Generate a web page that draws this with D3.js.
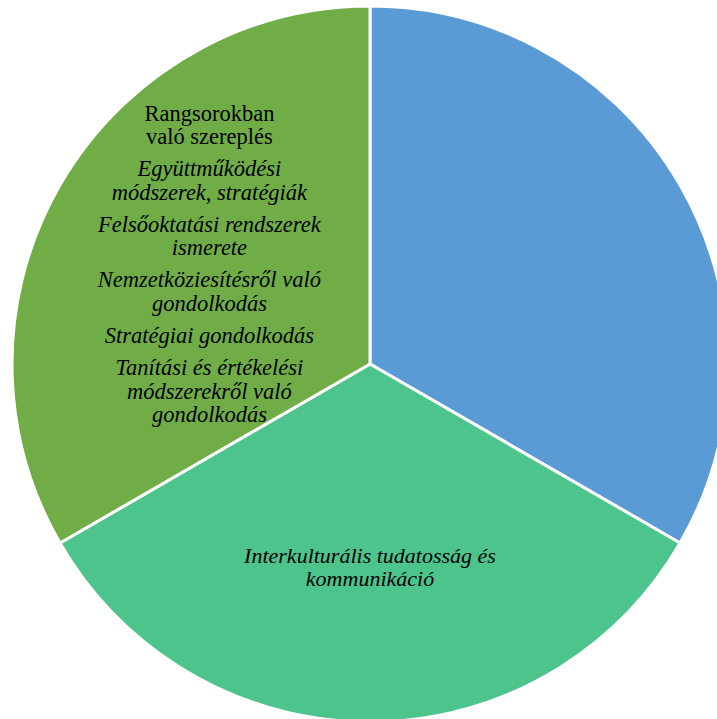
<!DOCTYPE html>
<html>
<head>
<meta charset="utf-8">
<script src="https://cdn.jsdelivr.net/npm/d3@7"></script>
<style>
  html, body { margin: 0; padding: 0; background: #fff; }
  svg { display: block; }
</style>
</head>
<body>
<svg id="chart" width="717" height="719"></svg>
<script>
// Three competence areas, equal shares
const categories = ["Kompetenciák", "Interkulturális tudatosság", "Stratégia"];
const values = [1, 1, 1];
const colors = ["#5B9BD5", "#4DC48C", "#70AD47"];

// Label paragraphs per slice; each paragraph is a list of lines
const labelParagraphs = [
  [],
  [
    { italic: true, lines: ["Interkulturális tudatosság és", "kommunikáció"] }
  ],
  [
    { italic: false, lines: ["Rangsorokban", "való szereplés"] },
    { italic: true, lines: ["Együttműködési", "módszerek, stratégiák"] },
    { italic: true, lines: ["Felsőoktatási rendszerek", "ismerete"] },
    { italic: true, lines: ["Nemzetköziesítésről való", "gondolkodás"] },
    { italic: true, lines: ["Stratégiai gondolkodás"] },
    { italic: true, lines: ["Tanítási és értékelési", "módszerekről való", "gondolkodás"] }
  ]
];

const svg = d3.select("#chart");
const cx = 370, cy = 364, radius = 358;
const g = svg.append("g").attr("transform", `translate(${cx},${cy})`);

const data = categories.map((c, i) => ({ category: c, value: values[i], index: i }));

const pie = d3.pie().sort(null).value(d => d.value).startAngle(0).endAngle(2 * Math.PI);
const arcs = pie(data);

const arc = d3.arc().innerRadius(0).outerRadius(radius);
const color = d3.scaleOrdinal().domain(categories).range(colors);

g.selectAll("path.slice")
  .data(arcs)
  .join("path")
  .attr("class", "slice")
  .attr("d", arc)
  .attr("fill", d => color(d.data.category))
  .attr("stroke", "#fff")
  .attr("stroke-width", 3)
  .attr("stroke-linejoin", "round");

// Label placement: the middle baseline of each block sits on the label centroid
const labelRadiusFactor = [0.55, 0.589, 0.518];
const fontSize = [22.5, 22, 22.5];
const lineStep = [23.3, 23, 23.3];
const paraGap = [9, 9, 9];

arcs.forEach((a, i) => {
  const paras = labelParagraphs[i];
  if (!paras.length) return;
  const lr = radius * labelRadiusFactor[i];
  const [lx, ly] = d3.arc().innerRadius(lr).outerRadius(lr).centroid(a);
  const rows = [];
  let y = 0;
  paras.forEach((p, pi) => {
    if (pi > 0) y += paraGap[i];
    p.lines.forEach(ln => {
      rows.push({ text: ln, italic: p.italic, y: y });
      y += lineStep[i];
    });
  });
  const total = y - lineStep[i];
  const text = g.append("text")
    .attr("text-anchor", "middle")
    .style("font-family", '"Liberation Serif", "Times New Roman", serif')
    .style("font-size", fontSize[i] + "px")
    .attr("fill", "#000");
  rows.forEach(r => {
    text.append("tspan")
      .attr("x", lx)
      .attr("y", ly - total / 2 + r.y)
      .style("font-style", r.italic ? "italic" : "normal")
      .text(r.text);
  });
});
</script>
</body>
</html>
